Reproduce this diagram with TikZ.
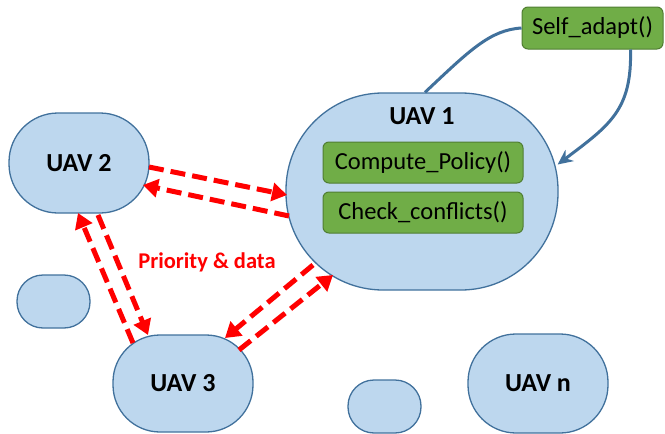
\documentclass[tikz,border=0pt]{standalone}
\usepackage{fontspec}
\setmainfont{Carlito}
\usetikzlibrary{arrows.meta,calc}
\definecolor{uavfill}{HTML}{BDD7EE}
\definecolor{uavedge}{HTML}{41719C}
\definecolor{funcfill}{HTML}{70AD47}
\definecolor{funcedge}{HTML}{507E32}
\definecolor{linkblue}{HTML}{41719C}
\begin{document}
\begin{tikzpicture}[x=1pt,y=-1pt,
  uav/.style={draw=uavedge, fill=uavfill, line width=1.3pt, inner sep=0pt},
  func/.style={draw=funcedge, fill=funcfill, line width=1pt, rounded corners=6pt,
    inner sep=0pt, font=\fontsize{24.5}{28}\selectfont},
  uavtext/.style={font=\bfseries\fontsize{26}{30}\selectfont},
  msg/.style={draw=red, line width=5pt, dash pattern=on 15pt off 7pt,
    -{Triangle[length=15pt,width=18pt]}},
  ctrl/.style={draw=linkblue, line width=3pt}]
\useasboundingbox (0,0) rectangle (665,434);

% agents
\node[uav, minimum width=272pt, minimum height=197pt, rounded corners=97pt] (u1) at (422,191.5) {};
\node[uavtext] (u1t) at (422,116) {UAV 1};
\node[uav, uavtext, minimum width=140pt, minimum height=100pt, rounded corners=49pt] (u2) at (79,163) {UAV 2};
\node[uav, uavtext, minimum width=140pt, minimum height=97pt, rounded corners=47pt] (u3) at (183,383.5) {UAV 3};
\node[uav, uavtext, minimum width=140pt, minimum height=99pt, rounded corners=48pt] (un) at (538,383.5) {UAV n};
\node[uav, minimum width=73pt, minimum height=53pt, rounded corners=26pt] (b1) at (53.5,301.5) {};
\node[uav, minimum width=73pt, minimum height=53pt, rounded corners=26pt] (b2) at (384.5,406.5) {};

% functions
\node[func, minimum width=141pt, minimum height=42pt] (sa) at (592.5,28) {Self\_adapt()};
\node[func, minimum width=200pt, minimum height=41pt] (cp) at (423,162.5) {Compute\_Policy()};
\node[func, minimum width=200pt, minimum height=41pt] (cc) at (423,212.5) {Check\_conflicts()};

% self-adaptation loop
\draw[ctrl] ($(u1.north)+(3,0)$) .. controls (470,50) and (490,30) .. (sa.west);
\draw[ctrl, -{Stealth[length=15pt,width=14pt]}] ($(sa.south)+(38,0)$)
  .. controls (632,110) and (610,125) .. ($(u1.east)+(-1,-27)$);

% message exchange
\draw[msg] ($(u2.center)+(70,4)$) -- ($(u1.center)+(-135,3.5)$);
\draw[msg] ($(u1.center)+(-133,24.5)$) -- ($(u2.center)+(64,22)$);
\draw[msg] ($(u2.center)+(19,52)$) -- ($(u3.center)+(-35,-48.5)$);
\draw[msg] ($(u3.center)+(-50,-40.5)$) -- ($(u2.center)+(-1,50)$);
\draw[msg] ($(u1.center)+(-109,73.5)$) -- ($(u3.center)+(42,-45.5)$);
\draw[msg] ($(u3.center)+(56,-33.5)$) -- ($(u1.center)+(-89,83.5)$);

\node[text=red, font=\bfseries\fontsize{22.5}{26}\selectfont] (pd) at (207,262) {Priority \& data};
\end{tikzpicture}
\end{document}
